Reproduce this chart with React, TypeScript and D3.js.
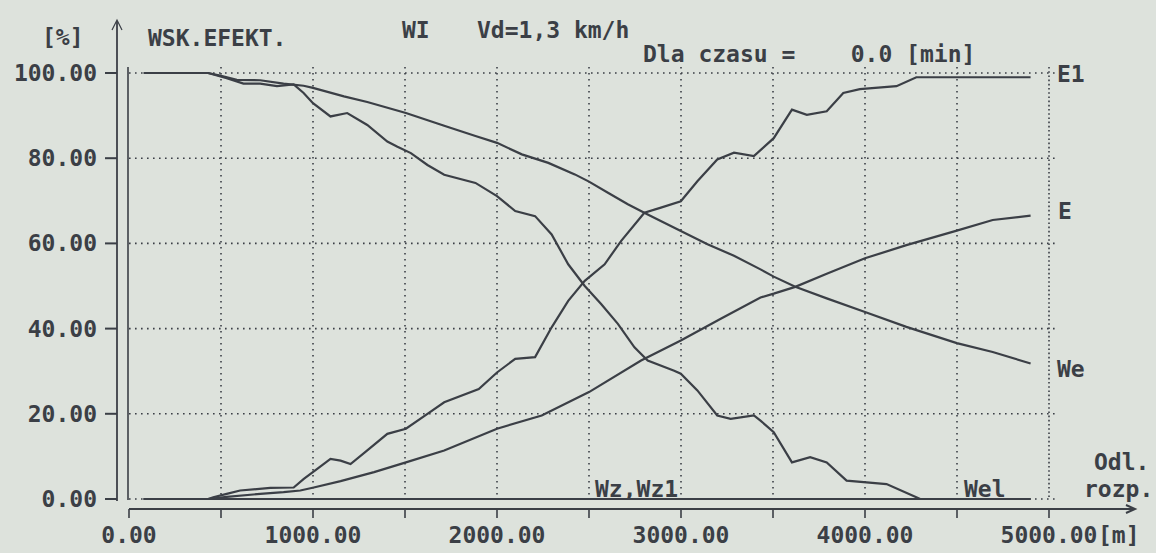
import React from "react";
import * as d3 from "d3";

// distances [m] and efficiency values [%]
const e1X = [80, 430, 458, 531, 604, 768, 895, 950, 1023, 1095, 1150, 1204, 1295, 1404, 1505, 1622, 1713, 1901, 2000, 2099, 2207, 2297, 2387, 2477, 2585, 2675, 2801, 2891, 2999, 3089, 3197, 3288, 3396, 3504, 3603, 3684, 3792, 3882, 3972, 4171, 4279, 4900];
const e1Y = [0, 0, 0.4, 1.2, 2.0, 2.6, 2.7, 4.7, 7.1, 9.4, 9.0, 8.2, 11.4, 15.3, 16.5, 20.0, 22.7, 25.8, 29.7, 32.9, 33.3, 40.3, 46.5, 51.2, 55.1, 60.6, 67.2, 68.4, 69.9, 74.6, 79.7, 81.3, 80.5, 84.7, 91.4, 90.2, 91.0, 95.3, 96.2, 96.9, 99, 99];

const eX = [80, 430, 531, 713, 840, 931, 1004, 1150, 1332, 1505, 1713, 2000, 2243, 2500, 2783, 2999, 3216, 3432, 3504, 3621, 3792, 4000, 4225, 4499, 4694, 4900];
const eY = [0, 0, 0.5, 1.2, 1.6, 2.0, 2.7, 4.2, 6.3, 8.6, 11.4, 16.5, 19.6, 25.1, 32.5, 37.2, 42.3, 47.3, 48.2, 49.8, 52.9, 56.5, 59.6, 63.0, 65.5, 66.5];

const weX = [80, 430, 495, 586, 713, 840, 949, 1000, 1168, 1295, 1505, 1713, 1883, 2000, 2135, 2279, 2423, 2500, 2603, 2711, 2819, 2999, 3144, 3288, 3432, 3504, 3621, 3792, 4000, 4225, 4499, 4694, 4900];
const weY = [100, 100, 99.4, 98.4, 98.3, 97.5, 97.0, 96.5, 94.5, 93.2, 90.6, 87.6, 85.2, 83.6, 80.9, 78.9, 76.2, 74.5, 71.9, 69.2, 66.8, 62.9, 59.8, 57.1, 53.9, 52.2, 49.8, 47.1, 43.9, 40.4, 36.6, 34.5, 31.8];

const wzX = [80, 430, 531, 622, 713, 804, 895, 949, 1000, 1095, 1186, 1295, 1404, 1459, 1532, 1622, 1713, 1883, 2000, 2099, 2207, 2297, 2387, 2477, 2567, 2657, 2747, 2819, 2963, 2999, 3089, 3197, 3270, 3396, 3432, 3504, 3603, 3702, 3792, 3900, 4117, 4279, 4300];
const wzY = [100, 100, 98.8, 97.5, 97.5, 96.9, 97.3, 95.3, 92.9, 89.8, 90.6, 87.8, 83.9, 82.7, 81.2, 78.4, 76.1, 74.2, 71.1, 67.6, 66.4, 62.1, 55.1, 50.0, 45.7, 41.1, 35.6, 32.5, 30.1, 29.4, 25.5, 19.6, 18.8, 19.6, 18.4, 15.7, 8.6, 9.8, 8.6, 4.3, 3.5, 0.4, 0];

const wz1X = [80, 4900];
const wz1Y = [0, 0];
const welX = [80, 4900];
const welY = [0, 0];

const xTicks = [0, 1000, 2000, 3000, 4000, 5000];
const xTickLabels = ["0.00", "1000.00", "2000.00", "3000.00", "4000.00", "5000.00"];
const xGrid = [500, 1000, 1500, 2000, 2500, 3000, 3500, 4000, 4500, 5000];
const yTicks = [0, 20, 40, 60, 80, 100];
const yTickLabels = ["0.00", "20.00", "40.00", "60.00", "80.00", "100.00"];

const W = 1156;
const H = 553;
const INK = "#3b3f46";
const BG = "#dde2dc";
const FONT = "'DejaVu Sans Mono', 'Liberation Mono', monospace";
const NBSP = "\u00A0";

export default function App() {
  const x = d3.scaleLinear().domain([0, 5000]).range([129, 1049]);
  const y = d3.scaleLinear().domain([0, 100]).range([499, 73]);
  const line = d3
    .line<[number, number]>()
    .x((d) => x(d[0]))
    .y((d) => y(d[1]));

  const series: [number[], number[]][] = [
    [e1X, e1Y],
    [eX, eY],
    [weX, weY],
    [wzX, wzY],
    [wz1X, wz1Y],
    [welX, welY],
  ];

  const axisX = x(0) - 12; // y-axis arrow line
  const baseY = y(0) + 10; // x-axis arrow line
  const xEnd = x(5000) + 86;

  const txt = {
    fontFamily: FONT,
    fontSize: 23,
    fontWeight: "bold" as const,
    fill: INK,
  };

  return (
    <svg
      width={W}
      height={H}
      style={{ position: "absolute", left: 0, top: 0, background: BG }}
    >
      <rect x={0} y={0} width={W} height={H} fill={BG} />

      {/* grid */}
      {yTicks.map((t) => (
        <line
          key={"gy" + t}
          x1={x(0)}
          x2={x(5000) + 9}
          y1={y(t)}
          y2={y(t)}
          stroke={INK}
          strokeWidth={1.6}
          strokeDasharray="1.6 4.4"
        />
      ))}
      {xGrid.map((t) => (
        <line
          key={"gx" + t}
          x1={x(t)}
          x2={x(t)}
          y1={y(100) - 6}
          y2={y(0)}
          stroke={INK}
          strokeWidth={1.6}
          strokeDasharray={t === 5000 ? "1.6 2.6" : "1.6 4.4"}
        />
      ))}

      {/* plot frame left */}
      <line x1={x(0) - 1} x2={x(0) - 1} y1={y(100) - 6} y2={y(0) + 1} stroke={INK} strokeWidth={1.6} />

      {/* y axis */}
      <line x1={axisX} x2={axisX} y1={21} y2={y(0) + 2} stroke={INK} strokeWidth={1.8} />
      <path d={`M${axisX - 5},${30} L${axisX},${20} L${axisX + 5},${30}`} fill="none" stroke={INK} strokeWidth={1.2} />
      {yTicks.map((t, i) => (
        <g key={"yt" + t}>
          <line x1={axisX - 12} x2={axisX} y1={y(t)} y2={y(t)} stroke={INK} strokeWidth={2} />
          <text {...txt} x={97} y={y(t) + 8} textAnchor="end">
            {yTickLabels[i]}
          </text>
        </g>
      ))}

      {/* x axis */}
      <line x1={x(0)} x2={xEnd} y1={baseY} y2={baseY} stroke={INK} strokeWidth={2.2} />
      <path d={`M${xEnd - 9},${baseY - 4} L${xEnd},${baseY} L${xEnd - 9},${baseY + 4}`} fill="none" stroke={INK} strokeWidth={2} />
      {[0, ...xGrid].map((t) => (
        <line key={"xt" + t} x1={x(t)} x2={x(t)} y1={baseY} y2={baseY + 9} stroke={INK} strokeWidth={1.6} />
      ))}
      {xTicks.map((t, i) => (
        <text key={"xl" + t} {...txt} x={x(t)} y={543} textAnchor="middle">
          {xTickLabels[i]}
        </text>
      ))}
      <text {...txt} x={x(5000) + 49} y={543}>[m]</text>

      {/* curves */}
      {series.map(([xs, ys], i) => (
        <path
          key={"s" + i}
          d={line(xs.map((v, j) => [v, ys[j]] as [number, number])) || ""}
          fill="none"
          stroke={INK}
          strokeWidth={2.2}
        />
      ))}

      {/* header texts */}
      <text {...txt} x={42} y={45}>[%]</text>
      <text {...txt} x={148} y={46}>WSK.EFEKT.</text>
      <text {...txt} x={402} y={38}>WI</text>
      <text {...txt} x={477} y={38}>Vd=1,3 km/h</text>
      <text {...txt} x={643} y={62}>{`Dla czasu =${NBSP}${NBSP}${NBSP}${NBSP}0.0 [min]`}</text>

      {/* series labels */}
      <text {...txt} x={1057} y={82}>E1</text>
      <text {...txt} x={1058} y={219}>E</text>
      <text {...txt} x={1057} y={377}>We</text>
      <text {...txt} x={595} y={497}>Wz,Wz1</text>
      <text {...txt} x={964} y={497}>Wel</text>
      <text {...txt} x={1094} y={470}>Odl.</text>
      <text {...txt} x={1084} y={497}>rozp.</text>
    </svg>
  );
}
